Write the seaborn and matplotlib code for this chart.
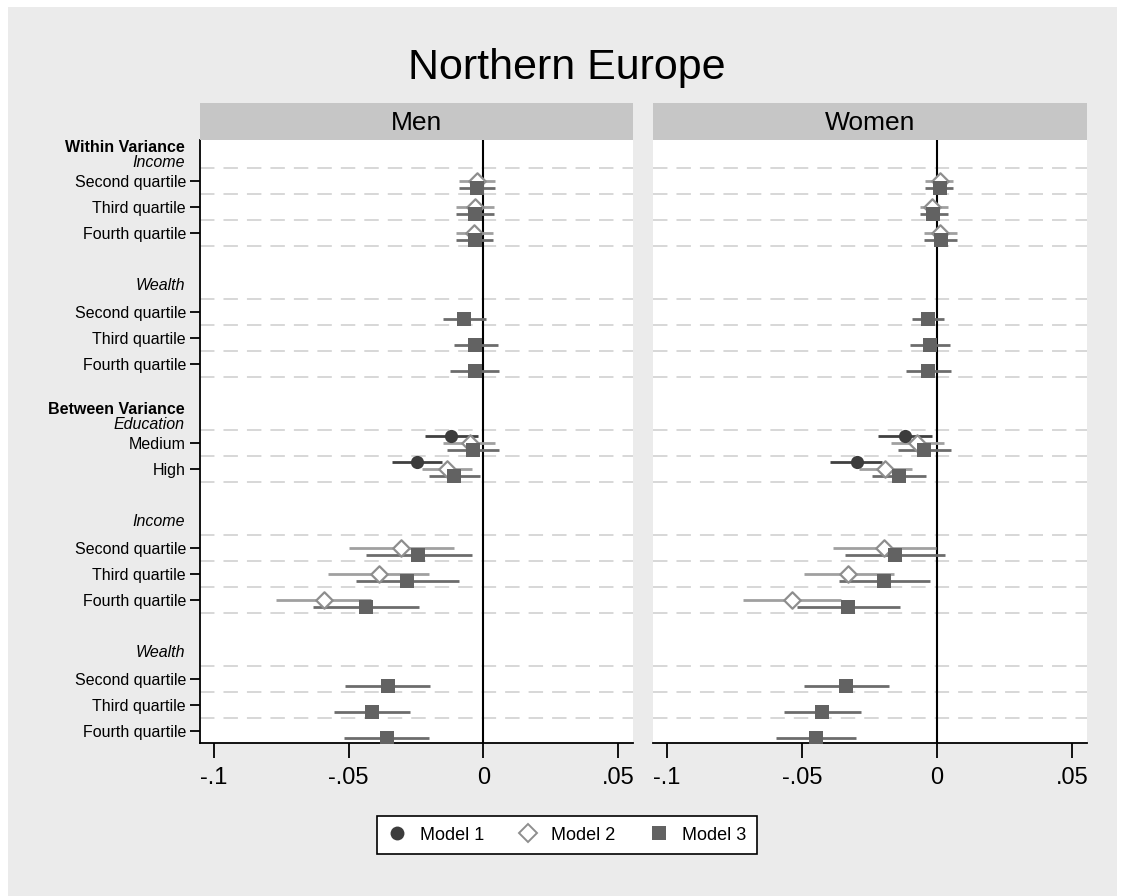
import numpy as np
import pandas as pd
import matplotlib
matplotlib.use("Agg")
import matplotlib.pyplot as plt
from matplotlib.lines import Line2D
from matplotlib.patches import Rectangle
import seaborn as sns

nan = np.nan

# ---------------- data ----------------
title = "Northern Europe"
panels = ["Men", "Women"]
models = ["Model 1", "Model 2", "Model 3"]

groups = [
    ("Within Variance", "Income", ["Second quartile", "Third quartile", "Fourth quartile"]),
    (None, "Wealth", ["Second quartile", "Third quartile", "Fourth quartile"]),
    ("Between Variance", "Education", ["Medium", "High"]),
    (None, "Income", ["Second quartile", "Third quartile", "Fourth quartile"]),
    (None, "Wealth", ["Second quartile", "Third quartile", "Fourth quartile"]),
]

# Men
men_m1_coef = [nan]*6 + [-0.0120, -0.0248] + [nan]*6
men_m1_lo   = [nan]*6 + [-0.0217, -0.0340] + [nan]*6
men_m1_hi   = [nan]*6 + [-0.0020, -0.0153] + [nan]*6
men_m2_coef = [-0.0024, -0.0030, -0.0035, nan, nan, nan, -0.0050, -0.0136, -0.0306, -0.0388, -0.0592, nan, nan, nan]
men_m2_lo   = [-0.0092, -0.0100, -0.0100, nan, nan, nan, -0.0148, -0.0229, -0.0500, -0.0576, -0.0768, nan, nan, nan]
men_m2_hi   = [0.0045, 0.0040, 0.0036, nan, nan, nan, 0.0045, -0.0041, -0.0110, -0.0202, -0.0417, nan, nan, nan]
men_m3_coef = [-0.0023, -0.0030, -0.0030, -0.0071, -0.0030, -0.0030, -0.0038, -0.0108, -0.0241, -0.0282, -0.0436, -0.0355, -0.0414, -0.0359]
men_m3_lo   = [-0.0092, -0.0100, -0.0100, -0.0150, -0.0110, -0.0123, -0.0135, -0.0202, -0.0436, -0.0471, -0.0632, -0.0512, -0.0553, -0.0517]
men_m3_hi   = [0.0045, 0.0040, 0.0036, 0.0010, 0.0053, 0.0060, 0.0060, -0.0012, -0.0042, -0.0091, -0.0240, -0.0197, -0.0273, -0.0202]

# Women
wom_m1_coef = [nan]*6 + [-0.0118, -0.0298] + [nan]*6
wom_m1_lo   = [nan]*6 + [-0.0218, -0.0396] + [nan]*6
wom_m1_hi   = [nan]*6 + [-0.0019, -0.0203] + [nan]*6
wom_m2_coef = [0.0010, -0.0019, 0.0010, nan, nan, nan, -0.0073, -0.0192, -0.0196, -0.0328, -0.0537, nan, nan, nan]
wom_m2_lo   = [-0.0043, -0.0064, -0.0048, nan, nan, nan, -0.0171, -0.0287, -0.0384, -0.0494, -0.0717, nan, nan, nan]
wom_m2_hi   = [0.0060, 0.0041, 0.0075, nan, nan, nan, 0.0026, -0.0092, -0.0002, -0.0160, -0.0355, nan, nan, nan]
wom_m3_coef = [0.0010, -0.0015, 0.0014, -0.0032, -0.0025, -0.0032, -0.0048, -0.0140, -0.0156, -0.0197, -0.0330, -0.0337, -0.0426, -0.0448]
wom_m3_lo   = [-0.0043, -0.0064, -0.0048, -0.0092, -0.0098, -0.0115, -0.0145, -0.0240, -0.0342, -0.0364, -0.0520, -0.0494, -0.0567, -0.0597]
wom_m3_hi   = [0.0060, 0.0041, 0.0075, 0.0026, 0.0050, 0.0053, 0.0051, -0.0040, 0.0031, -0.0027, -0.0137, -0.0178, -0.0282, -0.0300]

xticks = [-0.1, -0.05, 0, 0.05]
xticklabels = ["-.1", "-.05", "0", ".05"]

# ---------------- layout of rows ----------------
row_pos, row_lab, header_pos, grid_pos = [], [], [], []
r = 0
for big, small, items in groups:
    header_pos.append((r, big, small))
    grid_pos.append(r + 0.5)
    for it in items:
        r += 1
        row_pos.append(r)
        row_lab.append(it)
        grid_pos.append(r + 0.5)
    r += 2
row_pos = np.array(row_pos, dtype=float)

offsets = {"Model 1": -0.26, "Model 2": 0.0, "Model 3": 0.26}

data = {
    "Men": {"Model 1": (men_m1_coef, men_m1_lo, men_m1_hi),
            "Model 2": (men_m2_coef, men_m2_lo, men_m2_hi),
            "Model 3": (men_m3_coef, men_m3_lo, men_m3_hi)},
    "Women": {"Model 1": (wom_m1_coef, wom_m1_lo, wom_m1_hi),
              "Model 2": (wom_m2_coef, wom_m2_lo, wom_m2_hi),
              "Model 3": (wom_m3_coef, wom_m3_lo, wom_m3_hi)},
}
recs = []
for p in panels:
    for m in models:
        c, lo, hi = data[p][m]
        for i in range(len(row_pos)):
            if not np.isnan(c[i]):
                recs.append(dict(panel=p, model=m, coef=c[i], lo=lo[i], hi=hi[i],
                                 y=row_pos[i] + offsets[m]))
df = pd.DataFrame(recs)

# ---------------- style ----------------
sns.set_style("ticks")
plt.rcParams["font.family"] = ["Liberation Sans", "DejaVu Sans"]
plt.rcParams["text.color"] = "black"
plt.rcParams["xtick.color"] = "black"
plt.rcParams["ytick.color"] = "black"
plt.rcParams["xtick.labelcolor"] = "black"
plt.rcParams["ytick.labelcolor"] = "black"
BG = "#EBEBEB"

styles = {
    "Model 1": dict(marker="o", s=90, color="#3c3c3c", edgecolor="#3c3c3c", linewidth=0, line="#404040"),
    "Model 2": dict(marker="D", s=70, color="white", edgecolor="#8e8e8e", linewidth=1.6, line="#a0a0a0"),
    "Model 3": dict(marker="s", s=100, color="#626262", edgecolor="#626262", linewidth=0, line="#6c6c6c"),
}

W, H = 1122, 896
fig = plt.figure(figsize=(W / 100, H / 100), dpi=100, facecolor="white")
fig.patches.append(Rectangle((8 / W, 0), (1117 - 8) / W, (H - 7) / H, transform=fig.transFigure,
                             facecolor=BG, edgecolor="none", zorder=-10))

ax_left = fig.add_axes([200 / W, (H - 743) / H, 433 / W, 603 / H])
ax_right = fig.add_axes([653 / W, (H - 743) / H, 434 / W, 603 / H])

for ax, p in zip([ax_left, ax_right], panels):
    ax.set_facecolor("white")
    for g in grid_pos:
        ax.axhline(g, color="#d4d4d4", lw=1.3, dashes=(8, 5), zorder=0)
    ax.axvline(0, color="black", lw=1.5, zorder=1)
    sub = df[df.panel == p]
    for m in models:
        d = sub[sub.model == m]
        st = styles[m]
        ax.hlines(d.y, d.lo, d.hi, color=st["line"], lw=2.0, zorder=2)
        sns.scatterplot(data=d, x="coef", y="y", ax=ax, marker=st["marker"], s=st["s"],
                        color=st["color"], edgecolor=st["edgecolor"], linewidth=st["linewidth"],
                        zorder=3, legend=False)
    ax.set_xlim(-0.1052, 0.0556)
    ax.set_ylim(row_pos.max() + 0.45, -0.56)
    ax.set_xticks(xticks)
    ax.set_xticklabels(xticklabels, fontsize=17)
    ax.tick_params(axis="x", length=11, width=1.3, direction="out", pad=6, colors="black")
    ax.set_xlabel("")
    ax.set_ylabel("")
    for s in ["top", "right"]:
        ax.spines[s].set_visible(False)
    ax.spines["bottom"].set_color("black")
    ax.spines["bottom"].set_linewidth(1.3)

    # strip header
    pos = ax.get_position()
    sax = fig.add_axes([pos.x0, (H - 140) / H, pos.width, 37 / H])
    sax.set_facecolor("#c6c6c6")
    sax.set_xticks([]); sax.set_yticks([])
    for s in sax.spines.values():
        s.set_visible(False)
    sax.text(0.5, 0.45, p, ha="center", va="center", fontsize=19, transform=sax.transAxes)

# left y axis
ax_left.set_yticks(row_pos)
ax_left.set_yticklabels(row_lab, fontsize=11.5)
ax_left.tick_params(axis="y", length=7, width=1.3, direction="out", pad=3, colors="black")
ax_left.spines["left"].set_color("black")
ax_left.spines["left"].set_linewidth(1.3)
tr = matplotlib.transforms.blended_transform_factory(ax_left.transAxes, ax_left.transData)
for y, big, small in header_pos:
    if big:
        ax_left.text(-0.035, y - 0.27, big, ha="right", va="center", fontsize=11.5,
                     fontweight="bold", transform=tr)
        ax_left.text(-0.035, y + 0.31, small, ha="right", va="center", fontsize=11.5,
                     fontstyle="italic", transform=tr)
    else:
        ax_left.text(-0.035, y, small, ha="right", va="center", fontsize=11.5,
                     fontstyle="italic", transform=tr)

ax_right.set_yticks([])
ax_right.spines["left"].set_visible(False)

fig.text(567 / W, (H - 68) / H, title, ha="center", va="center", fontsize=31)

handles = []
for m in models:
    st = styles[m]
    handles.append(Line2D([], [], linestyle="none", marker=st["marker"],
                          markersize=10 if m != "Model 2" else 9,
                          markerfacecolor=st["color"], markeredgecolor=st["edgecolor"],
                          markeredgewidth=1.4 if m == "Model 2" else 0, label=m))
leg = fig.legend(handles=handles, loc="center", bbox_to_anchor=(567 / W, (H - 835) / H),
                 ncol=3, fontsize=13, frameon=True, fancybox=False, edgecolor="black",
                 facecolor="white", framealpha=1, handlelength=1.0, handletextpad=0.8,
                 columnspacing=1.9, borderpad=0.6, borderaxespad=0)
leg.get_frame().set_linewidth(1.2)

fig.savefig("out.png", dpi=100, facecolor="white")
